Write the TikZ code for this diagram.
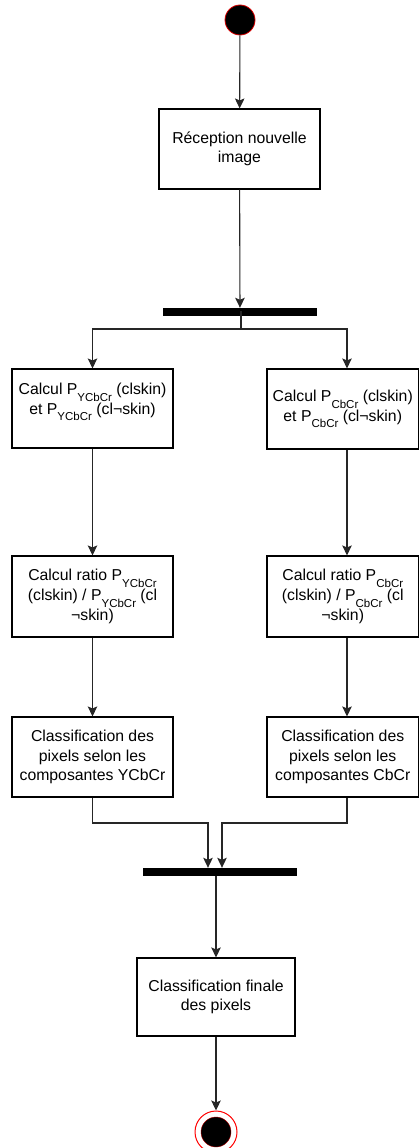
\documentclass[tikz,border=0pt]{standalone}
\usepackage{fontspec}
\setmainfont{Liberation Sans}
\usetikzlibrary{arrows.meta}
\newcommand\lowsub[1]{\raisebox{-0.42em}{\fontsize{11.5}{12}\selectfont #1}}
\begin{document}
\begin{tikzpicture}[x=1pt,y=-1pt,
  every node/.style={font=\fontsize{15.8}{19.6}\selectfont, text=black},
  actbox/.style={draw=black, line width=1.1pt, fill=white, align=center,
    minimum width=161pt, minimum height=80pt, inner sep=0pt},
  rbox/.style={actbox, minimum width=151.5pt},
  syncbar/.style={fill=black, minimum width=154pt, minimum height=8pt, inner sep=0pt},
  flow/.style={line width=1.1pt, draw=black!85,
    -{Stealth[length=10pt,width=9.5pt,inset=2pt]}},
  link/.style={line width=1.1pt, draw=black!85}]
\useasboundingbox (0,0) rectangle (419,1148);

% start and end states
\node[circle, fill=black, draw=red!85!black, line width=0.8pt, minimum size=30pt, inner sep=0pt] (start) at (240,20) {};
\node[circle, draw=red, line width=1pt, fill=white, minimum size=42pt, inner sep=0pt] (stop) at (216,1132) {};
\node[circle, fill=black, draw=red!70!black, line width=0.4pt, minimum size=30pt, inner sep=0pt] (stopcore) at (stop.center) {};

% activities
\node[actbox] (recv) at (239.5,149) {Réception nouvelle\\image};
\node[syncbar] (fork) at (240,312) {};

\node[actbox, minimum height=79pt] (l1) at (92.5,408.5)
  {Calcul P\lowsub{YCbCr} (clskin)\\et P\lowsub{YCbCr} (cl¬skin)\\\mbox{}};
\node[rbox] (r1) at (342.75,409)
  {Calcul P\lowsub{CbCr} (clskin)\\et P\lowsub{CbCr} (cl¬skin)};

\node[actbox, minimum height=81pt] (l2) at (92.5,596.5)
  {Calcul ratio P\lowsub{YCbCr}\\(clskin) / P\lowsub{YCbCr} (cl\\¬skin)};
\node[rbox, minimum height=81pt] (r2) at (342.75,596.5)
  {Calcul ratio P\lowsub{CbCr}\\(clskin) / P\lowsub{CbCr} (cl\\¬skin)};

\node[actbox] (l3) at (92.5,757)
  {Classification des\\pixels selon les\\composantes YCbCr};
\node[rbox] (r3) at (342.75,757)
  {Classification des\\pixels selon les\\composantes CbCr};

\node[syncbar] (join) at (220,872) {};
\node[actbox, minimum width=158pt, minimum height=78pt] (final) at (216,997)
  {Classification finale\\des pixels};

% flow
\draw[flow] (start) -- (recv);
\draw[flow] (recv) -- (fork);

\coordinate (split) at (241,329);
\draw[link] ([yshift=5pt]fork.south -| split) -- (split);
\draw[flow] (split) -| (l1.north);
\draw[flow] (split) -| ([xshift=4.25pt]r1.north);

\draw[flow] (l1) -- (l2);
\draw[flow] (l2) -- (l3);
\draw[flow] ([xshift=4.25pt]r1.south) -- ([xshift=4.25pt]r2.north);
\draw[flow] ([xshift=4.25pt]r2.south) -- ([xshift=4.25pt]r3.north);

\coordinate (mergeL) at (208,823);
\coordinate (mergeR) at (222,823);
\draw[flow] (l3.south) |- (mergeL) -- (mergeL |- join.north);
\draw[flow] ([xshift=4.25pt]r3.south) |- (mergeR) -- (mergeR |- join.north);

\draw[flow] (join.south -| final.north) -- (final.north);
\draw[flow] (final) -- (stop);
\end{tikzpicture}
\end{document}
